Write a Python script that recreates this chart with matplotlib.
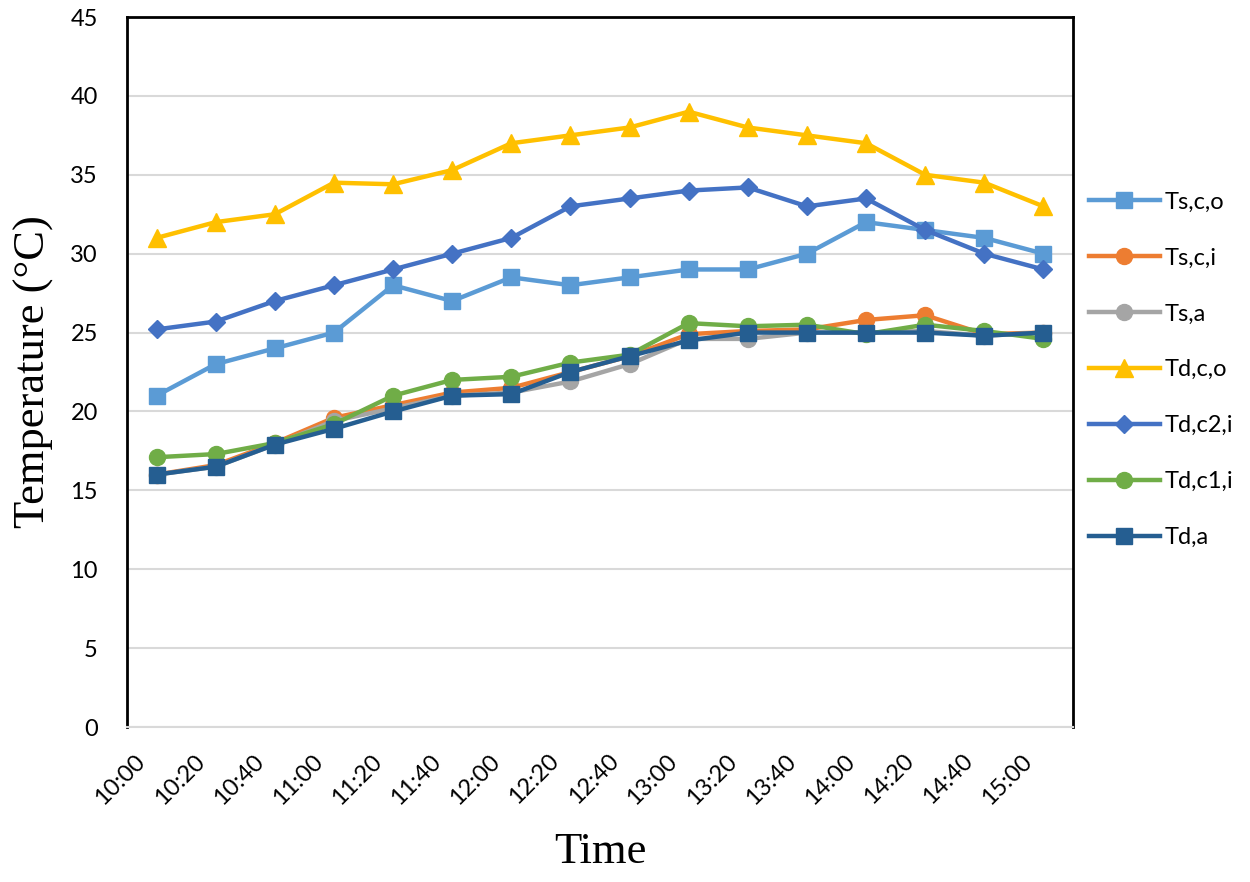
import matplotlib
matplotlib.use("Agg")
import matplotlib.pyplot as plt
import matplotlib.transforms as mtransforms

times = ["10:00", "10:20", "10:40", "11:00", "11:20", "11:40", "12:00", "12:20",
         "12:40", "13:00", "13:20", "13:40", "14:00", "14:20", "14:40", "15:00"]

ts_c_o = [21.0, 23.0, 24.0, 25.0, 28.0, 27.0, 28.5, 28.0, 28.5, 29.0, 29.0, 30.0, 32.0, 31.5, 31.0, 30.0]
ts_c_i = [16.0, 16.6, 18.0, 19.6, 20.4, 21.2, 21.5, 22.5, 23.5, 24.9, 25.1, 25.2, 25.8, 26.1, 24.9, 25.0]
ts_a = [16.0, 16.5, 17.9, 19.4, 20.2, 21.0, 21.2, 21.9, 23.0, 24.6, 24.6, 25.0, 25.0, 25.1, 24.8, 25.0]
td_c_o = [31.0, 32.0, 32.5, 34.5, 34.4, 35.3, 37.0, 37.5, 38.0, 39.0, 38.0, 37.5, 37.0, 35.0, 34.5, 33.0]
td_c2_i = [25.2, 25.7, 27.0, 28.0, 29.0, 30.0, 31.0, 33.0, 33.5, 34.0, 34.2, 33.0, 33.5, 31.5, 30.0, 29.0]
td_c1_i = [17.1, 17.3, 18.0, 19.2, 21.0, 22.0, 22.2, 23.1, 23.6, 25.6, 25.4, 25.5, 24.9, 25.5, 25.1, 24.6]
td_a = [16.0, 16.5, 17.9, 18.9, 20.0, 21.0, 21.1, 22.5, 23.5, 24.5, 25.0, 25.0, 25.0, 25.0, 24.8, 25.0]

labels = ["Ts,c,o", "Ts,c,i", "Ts,a", "Td,c,o", "Td,c2,i", "Td,c1,i", "Td,a"]
series = [ts_c_o, ts_c_i, ts_a, td_c_o, td_c2_i, td_c1_i, td_a]
colors = ["#5B9BD5", "#ED7D31", "#A5A5A5", "#FFC000", "#4472C4", "#70AD47", "#255E91"]
markers = ["s", "o", "o", "^", "D", "o", "s"]
msizes = [11.5, 11.5, 11.5, 12.5, 9.5, 11.5, 11.5]

fig = plt.figure(figsize=(12.5, 8.82), dpi=100)
ax = fig.add_axes([0.1016, 0.1757, 0.7568, 0.805])

x = list(range(len(times)))
handles = []
for s, lab, c, m, ms in zip(series, labels, colors, markers, msizes):
    h, = ax.plot(x, s, color=c, marker=m, markersize=ms, linewidth=3.2,
                 label=lab, markeredgecolor=c, solid_joinstyle="round")
    handles.append(h)

ax.set_xlim(-0.5, len(times) - 0.5)
ax.set_ylim(0, 45)
ax.set_yticks(range(0, 46, 5))
ax.set_xticks(x)
ax.tick_params(axis="both", length=0, pad=14)
ax.tick_params(axis="y", pad=21)
ax.set_xticklabels(times, rotation=45, ha="right", rotation_mode="anchor",
                   fontsize=17, family="Lato")
for t in ax.get_yticklabels():
    t.set_fontsize(17)
    t.set_family("Lato")
offset = mtransforms.ScaledTranslation(-22 / 100, -4 / 100, fig.dpi_scale_trans)
for t in ax.get_xticklabels():
    t.set_transform(t.get_transform() + offset)

ax.yaxis.grid(True, color="#D9D9D9", linewidth=1.5)
ax.set_axisbelow(True)
for side in ["left", "top", "right"]:
    ax.spines[side].set_color("black")
    ax.spines[side].set_linewidth(2)
ax.spines["bottom"].set_color("#D9D9D9")
ax.spines["bottom"].set_linewidth(1.5)

ax.set_ylabel("Temperature (°C)", fontsize=32, family="Liberation Serif", labelpad=12)
ax.set_xlabel("Time", fontsize=32, family="Liberation Serif", labelpad=17)

leg = fig.legend(handles=handles, labels=labels, loc="upper left",
                 bbox_to_anchor=(0.854, 0.807), frameon=False,
                 prop={"family": "Lato", "size": 17}, labelspacing=1.48,
                 handlelength=3.0, handletextpad=0.2)

fig.savefig("out.png", dpi=100)
